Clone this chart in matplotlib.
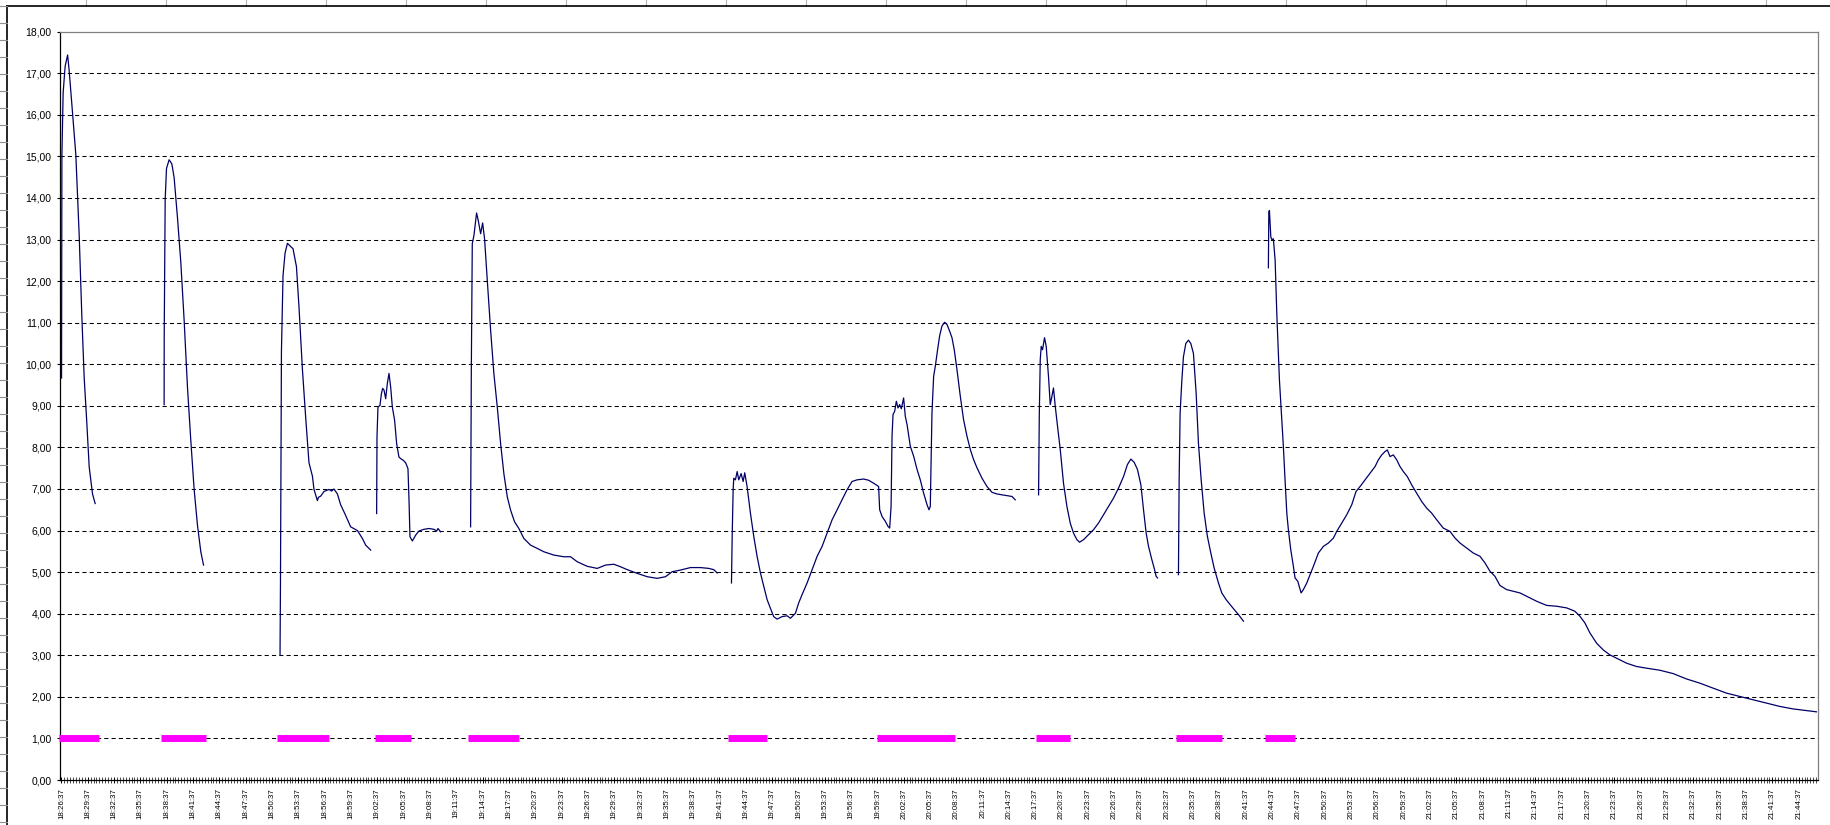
import datetime as dt
import matplotlib
matplotlib.use("Agg")
import matplotlib.pyplot as plt
from matplotlib.lines import Line2D

plt.rcParams["font.family"] = ["Liberation Sans", "DejaVu Sans"]

# time axis: minutes after 18:26:37, one label every 3 minutes
START = dt.datetime(2000, 1, 1, 18, 26, 37)
LABEL_MINUTES = list(range(0, 199, 3))
TICK_LABELS = [(START + dt.timedelta(minutes=m)).strftime("%H:%M:%S") for m in LABEL_MINUTES]
Y_TICKS = list(range(0, 19))
GRID_LEVELS = list(range(1, 18))

# measured signal, one list of (minute, value) per recorded run
SEG1 = [(0.02, 9.67), (0.06, 15.03), (0.2, 16.53), (0.43, 17.17), (0.71, 17.44), (0.89, 17.06),
        (1.27, 16.05), (1.65, 15.03), (2.03, 13.1), (2.33, 11.17), (2.6, 9.67), (2.87, 8.7),
        (3.17, 7.53), (3.55, 6.88), (3.85, 6.65)]
SEG2 = [(11.71, 9.03), (11.72, 10.69), (11.83, 13.96), (11.98, 14.71), (12.28, 14.92), (12.59, 14.82),
        (12.85, 14.49), (13.23, 13.53), (13.61, 12.46), (13.99, 11.06), (14.37, 9.45), (14.75, 8.17),
        (15.13, 6.99), (15.51, 6.13), (15.89, 5.49), (16.2, 5.17)]
SEG3 = [(24.92, 3.02), (24.97, 4.74), (25.08, 10.31), (25.26, 12.13), (25.49, 12.67), (25.76, 12.91),
        (26.14, 12.83), (26.4, 12.78), (26.79, 12.35), (27.08, 11.38), (27.47, 9.88), (27.85, 8.7),
        (28.22, 7.63), (28.61, 7.31), (28.79, 6.99), (29.18, 6.72), (29.3, 6.8), (29.56, 6.83),
        (29.93, 6.94), (30.5, 6.99), (30.8, 6.95), (31.07, 7.0), (31.46, 6.88), (31.83, 6.62),
        (32.32, 6.4), (32.97, 6.09), (33.74, 6.0), (34.31, 5.81), (34.68, 5.65), (35.25, 5.53)]
SEG4 = [(35.93, 6.41), (35.97, 8.25), (36.08, 8.97), (36.31, 9.01), (36.47, 9.29), (36.62, 9.42),
        (36.77, 9.38), (36.96, 9.17), (37.15, 9.54), (37.34, 9.78), (37.53, 9.45), (37.72, 8.97),
        (37.98, 8.65), (38.21, 8.09), (38.47, 7.77), (38.67, 7.73), (38.97, 7.69), (39.24, 7.63),
        (39.5, 7.49), (39.62, 6.73), (39.73, 5.85), (40.0, 5.75), (40.38, 5.89), (40.75, 5.99),
        (41.32, 6.03), (41.89, 6.05), (42.46, 6.03), (42.77, 5.99), (42.92, 6.05), (43.22, 5.97)]
SEG5 = [(46.64, 6.09), (46.72, 9.86), (46.83, 12.9), (47.02, 13.1), (47.32, 13.64), (47.51, 13.46),
        (47.78, 13.14), (48.01, 13.4), (48.23, 13.02), (48.54, 12.02), (48.92, 10.82), (49.29, 9.78),
        (49.68, 8.97), (50.06, 8.09), (50.43, 7.37), (50.82, 6.81), (51.2, 6.49), (51.65, 6.21),
        (52.14, 6.05), (52.71, 5.81), (53.47, 5.65), (54.24, 5.57), (54.99, 5.49), (56.13, 5.41),
        (57.27, 5.37), (58.03, 5.37), (58.79, 5.25), (59.93, 5.14), (61.07, 5.09), (62.02, 5.17),
        (62.96, 5.19), (63.72, 5.13), (64.49, 5.06), (65.63, 4.97), (66.77, 4.89), (67.9, 4.85),
        (68.85, 4.89), (69.61, 5.01), (70.56, 5.05), (71.7, 5.11), (72.83, 5.11), (73.78, 5.09),
        (74.35, 5.06), (74.74, 4.98)]
SEG6 = [(76.37, 4.74), (76.45, 5.86), (76.56, 6.98), (76.63, 7.26), (76.82, 7.22), (77.02, 7.42),
        (77.2, 7.22), (77.47, 7.37), (77.7, 7.18), (77.88, 7.39), (78.15, 7.06), (78.53, 6.42),
        (78.91, 5.86), (79.29, 5.38), (79.67, 4.98), (80.05, 4.66), (80.43, 4.34), (80.81, 4.13),
        (81.18, 3.93), (81.57, 3.87), (82.14, 3.93), (82.71, 3.95), (83.09, 3.89), (83.66, 4.01),
        (84.03, 4.26), (84.42, 4.46), (84.99, 4.74), (85.56, 5.06), (86.13, 5.38), (86.7, 5.62),
        (87.27, 5.94), (87.84, 6.26), (88.41, 6.5), (88.97, 6.74), (89.54, 6.98), (90.11, 7.18),
        (90.68, 7.22), (91.44, 7.24), (92.0, 7.21), (92.57, 7.14), (93.14, 7.06), (93.26, 6.5),
        (93.53, 6.34), (93.91, 6.22), (94.21, 6.1), (94.4, 6.06), (94.56, 6.58), (94.67, 8.27),
        (94.78, 8.79), (94.97, 8.87), (95.16, 9.11), (95.35, 8.95), (95.54, 9.03), (95.73, 8.93),
        (95.99, 9.19), (96.18, 8.75), (96.38, 8.55), (96.75, 8.03), (97.13, 7.79), (97.52, 7.47),
        (97.89, 7.22), (98.27, 6.9), (98.66, 6.62), (98.88, 6.5), (99.03, 6.58), (99.11, 7.55),
        (99.22, 8.83), (99.41, 9.71), (99.6, 9.95), (99.86, 10.35), (100.09, 10.68), (100.36, 10.92),
        (100.66, 11.01), (100.93, 10.96), (101.23, 10.8), (101.5, 10.64), (101.76, 10.35),
        (102.07, 9.87), (102.45, 9.23), (102.82, 8.67), (103.21, 8.27), (103.59, 7.95), (103.96, 7.71),
        (104.35, 7.51), (104.92, 7.26), (105.49, 7.06), (106.06, 6.92), (106.63, 6.88), (107.2, 6.86),
        (107.77, 6.84), (108.34, 6.82), (108.71, 6.74)]
SEG7 = [(111.37, 6.86), (111.45, 8.75), (111.56, 10.11), (111.67, 10.43), (111.82, 10.35),
        (112.05, 10.64), (112.24, 10.43), (112.5, 9.71), (112.7, 9.03), (112.89, 9.23), (113.07, 9.43),
        (113.27, 8.99), (113.53, 8.51), (113.84, 7.95), (114.21, 7.14), (114.6, 6.58), (114.98, 6.18),
        (115.35, 5.94), (115.74, 5.78), (116.04, 5.72), (116.49, 5.78), (117.06, 5.9), (117.63, 6.02),
        (118.2, 6.18), (118.77, 6.38), (119.34, 6.58), (119.91, 6.78), (120.48, 7.02), (121.05, 7.3),
        (121.5, 7.59), (121.89, 7.72), (122.27, 7.64), (122.64, 7.47), (123.03, 7.1), (123.33, 6.5),
        (123.63, 5.94), (123.9, 5.62), (124.28, 5.3), (124.54, 5.1), (124.77, 4.9), (124.92, 4.86)]
SEG8 = [(127.31, 4.94), (127.39, 7.22), (127.5, 8.82), (127.7, 9.62), (127.88, 10.18), (128.15, 10.5),
        (128.45, 10.58), (128.72, 10.5), (129.02, 10.26), (129.33, 9.3), (129.59, 8.1), (129.9, 7.22),
        (130.24, 6.42), (130.61, 5.86), (131.0, 5.46), (131.38, 5.1), (131.87, 4.74), (132.25, 4.5),
        (132.74, 4.34), (133.2, 4.22), (133.66, 4.1), (134.15, 3.98), (134.72, 3.82)]
SEG9 = [(137.56, 12.32), (137.61, 13.66), (137.68, 13.7), (137.84, 13.06), (137.98, 12.99),
        (138.13, 13.02), (138.33, 12.5), (138.52, 11.22), (138.82, 9.62), (139.09, 8.66), (139.27, 8.02),
        (139.46, 7.22), (139.66, 6.42), (139.84, 6.02), (140.11, 5.54), (140.41, 5.14), (140.6, 4.86),
        (140.91, 4.78), (141.29, 4.5), (141.55, 4.58), (141.94, 4.74), (142.31, 4.94), (142.69, 5.14),
        (143.26, 5.46), (143.83, 5.62), (144.4, 5.7), (144.97, 5.82), (145.35, 5.98), (145.92, 6.18),
        (146.49, 6.38), (147.06, 6.62), (147.55, 6.94), (148.01, 7.06), (148.58, 7.22), (149.15, 7.38),
        (149.72, 7.54), (150.09, 7.7), (150.48, 7.82), (150.85, 7.9), (151.12, 7.94), (151.42, 7.78),
        (151.8, 7.82), (152.19, 7.7), (152.56, 7.54), (152.94, 7.42), (153.39, 7.3), (153.89, 7.1),
        (154.46, 6.9), (155.03, 6.7), (155.6, 6.54), (156.17, 6.42), (156.74, 6.26), (157.49, 6.06),
        (158.26, 5.98), (158.83, 5.82), (159.4, 5.7), (160.16, 5.58), (160.91, 5.46), (161.68, 5.38),
        (162.25, 5.22), (162.82, 5.02), (163.38, 4.9), (163.95, 4.68), (164.71, 4.58), (165.47, 4.54),
        (166.23, 4.5), (166.99, 4.42), (168.13, 4.3), (169.27, 4.2), (170.41, 4.18), (171.55, 4.14),
        (172.49, 4.06), (173.06, 3.94), (173.63, 3.78), (174.2, 3.54), (174.97, 3.29), (175.72, 3.13),
        (176.48, 3.01), (177.24, 2.93), (178.38, 2.81), (179.52, 2.73), (180.66, 2.69), (182.18, 2.64),
        (183.69, 2.56), (185.22, 2.43), (186.73, 2.33), (188.24, 2.21), (189.77, 2.09), (191.28, 2.01),
        (192.8, 1.93), (194.33, 1.85), (195.84, 1.77), (197.36, 1.71), (198.88, 1.67), (200.02, 1.64)]
SEGMENTS = [SEG1, SEG2, SEG3, SEG4, SEG5, SEG6, SEG7, SEG8, SEG9]

# marker periods drawn at level 1
MARK_START = [-0.3, 11.3, 24.6, 35.7, 46.3, 76.0, 93.0, 111.1, 127.0, 137.2]
MARK_END = [4.24, 16.5, 30.5, 39.9, 52.2, 80.4, 101.9, 114.9, 132.3, 140.6]
MARK_LEVEL = 1.0

W, H = 1831, 825
fig = plt.figure(figsize=(W / 100, H / 100), dpi=100)
fig.patch.set_facecolor("white")

# spreadsheet behind the chart: column header strip and row strip
for k in range(23):
    x = (86 + 80 * k) / W
    fig.add_artist(Line2D([x, x], [1, 1 - 6 / H], color="#b0b0b0", lw=0.8))
fig.add_artist(Line2D([7 / W, 1], [1 - 6 / H, 1 - 6 / H], color="black", lw=1.2))
fig.add_artist(Line2D([7 / W, 7 / W], [0, 1 - 6 / H], color="black", lw=1.2))
for k in range(49):
    y = 1 - (6 + 17 * k) / H
    fig.add_artist(Line2D([0, 7 / W], [y, y], color="#909090", lw=0.8))

ax = fig.add_axes([60.5 / W, (H - 780) / H, (1818 - 60.5) / W, (780 - 31.7) / H])
ax.set_xlim(-0.1, 200.2)
ax.set_ylim(0, 18)

ax.hlines(GRID_LEVELS, -0.1, 200.2, colors="black", lw=0.75, linestyles=(0, (4, 3)), zorder=1)

for seg in SEGMENTS:
    ts = [p[0] for p in seg]
    vs = [p[1] for p in seg]
    ax.plot(ts, vs, color="#000066", lw=0.9, zorder=3)

for a, b in zip(MARK_START, MARK_END):
    ax.plot([a, b], [MARK_LEVEL, MARK_LEVEL], color="#ff00ff", lw=5, solid_capstyle="butt",
            zorder=4, clip_on=False)

for side in ("top", "right"):
    ax.spines[side].set_color("#808080")
    ax.spines[side].set_linewidth(0.9)
for side in ("left", "bottom"):
    ax.spines[side].set_color("black")
    ax.spines[side].set_linewidth(0.9)

ax.set_yticks(Y_TICKS)
ax.set_yticklabels([f"{v:.2f}".replace(".", ",") for v in Y_TICKS], fontsize=7.5)
ax.tick_params(axis="y", direction="out", length=2.5, width=0.8, pad=4)

ax.set_xticks(LABEL_MINUTES)
ax.set_xticklabels(TICK_LABELS, rotation=90, fontsize=5.7, ha="center", va="top")
ax.set_xticks([m / 3 for m in range(0, 601)], minor=True)
ax.tick_params(axis="x", which="major", direction="inout", length=5, width=0.7, pad=3.5)
ax.tick_params(axis="x", which="minor", direction="inout", length=4, width=0.5)

fig.savefig("out.png", dpi=100)
